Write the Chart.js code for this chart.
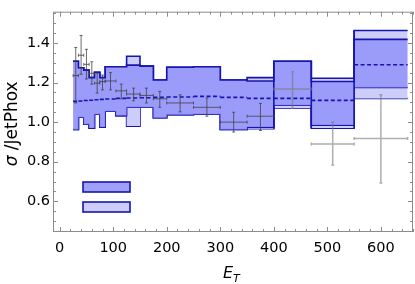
<!DOCTYPE html>
<html>
<head>
<meta charset="utf-8">
<script src="https://cdn.jsdelivr.net/npm/chart.js@4"></script>
<style>
  html, body { margin: 0; padding: 0; background: #fff; }
  canvas { display: block; }
</style>
</head>
<body>
<canvas id="ratioChart" width="415" height="284"></canvas>
<script>
// bins in E_T (GeV)
const binEdges = [25, 35, 45, 55, 65, 75, 85, 105, 125, 150, 175, 200, 250, 300, 350, 400, 470, 550, 650];

// theory band, one value per bin
const innerHi = [1.308, 1.275, 1.263, 1.225, 1.252, 1.225, 1.28, 1.28, 1.288, 1.283, 1.213, 1.277, 1.28, 1.213, 1.208, 1.308, 1.205, 1.418];
const innerLo = [0.963, 1.025, 0.99, 0.97, 1.04, 0.975, 1.055, 1.033, 1.075, 1.075, 1.022, 1.038, 1.04, 0.963, 0.975, 1.085, 0.985, 1.175];
const outerHi = [1.308, 1.275, 1.263, 1.225, 1.252, 1.225, 1.28, 1.28, 1.333, 1.283, 1.213, 1.277, 1.28, 1.213, 1.225, 1.308, 1.222, 1.463];
const outerLo = [0.963, 1.025, 0.99, 0.97, 1.04, 0.975, 1.055, 1.033, 0.98, 1.075, 1.022, 1.038, 1.04, 0.963, 0.967, 1.07, 0.97, 1.12];
const central = [1.105, 1.107, 1.109, 1.111, 1.113, 1.115, 1.117, 1.12, 1.122, 1.123, 1.125, 1.127, 1.13, 1.125, 1.12, 1.12, 1.11, 1.29];

// data points
const etPoints = [30, 40, 50, 60, 70, 80, 95, 115, 138, 162, 187, 225, 275, 325, 375, 435, 510, 600];
const ratio    = [1.235, 1.338, 1.292, 1.247, 1.197, 1.205, 1.208, 1.158, 1.142, 1.135, 1.118, 1.097, 1.075, 1.0, 1.03, 1.167, 0.89, 0.917];
const ratioLo  = [1.097, 1.242, 1.218, 1.192, 1.147, 1.163, 1.163, 1.118, 1.108, 1.097, 1.075, 1.052, 1.03, 0.95, 0.958, 1.07, 0.783, 0.693];
const ratioHi  = [1.377, 1.438, 1.368, 1.305, 1.247, 1.238, 1.25, 1.192, 1.172, 1.172, 1.155, 1.138, 1.122, 1.05, 1.095, 1.255, 1.0, 1.138];

const xTickLabels = [0, 100, 200, 300, 400, 500, 600];
const yTickLabels = [0.6, 0.8, 1.0, 1.2, 1.4];

const edgeBlue = 'rgb(22, 22, 175)';
const darkFill = 'rgba(150, 150, 250, 0.9)';
const lightFill = 'rgba(205, 205, 250, 1)';
const tickFont = { family: 'DejaVu Sans', size: 14.5 };

function stepData(vals) {
    const d = vals.map((v, i) => ({ x: binEdges[i], y: v }));
    d.push({ x: binEdges[binEdges.length - 1], y: vals[vals.length - 1] });
    return d;
}

function segmentData(vals) {
    const d = [];
    vals.forEach((v, i) => {
        d.push({ x: binEdges[i], y: v }, { x: binEdges[i + 1], y: v }, { x: binEdges[i + 1], y: null });
    });
    return d;
}

const bandLine = { showLine: true, stepped: 'before', borderColor: edgeBlue, borderWidth: 1.6, pointRadius: 0 };

// the wide high-E_T bins are drawn as boxes, so their left sides run full height
const boxEdges = {
    id: 'boxEdges',
    afterDatasetsDraw(chart) {
        const { ctx, scales: { x, y } } = chart;
        ctx.save();
        ctx.strokeStyle = edgeBlue;
        ctx.lineWidth = 1.6;
        ctx.beginPath();
        for (let i = 15; i < binEdges.length - 1; i++) {
            const px = x.getPixelForValue(binEdges[i]);
            const top = Math.max(outerHi[i], outerHi[i - 1]);
            const bot = Math.min(outerLo[i], outerLo[i - 1]);
            ctx.moveTo(px, y.getPixelForValue(top));
            ctx.lineTo(px, y.getPixelForValue(bot));
        }
        ctx.stroke();
        ctx.restore();
    }
};

// error crosses for the data
const errorBars = {
    id: 'errorBars',
    afterDatasetsDraw(chart) {
        const { ctx, scales: { x, y } } = chart;
        ctx.save();
        etPoints.forEach((et, i) => {
            const wide = binEdges[i + 1] - binEdges[i] > 60;
            ctx.strokeStyle = wide ? 'rgba(120, 120, 120, 0.6)' : 'rgba(60, 60, 60, 0.75)';
            ctx.lineWidth = wide ? 1.5 : 1;
            const px = x.getPixelForValue(et), py = y.getPixelForValue(ratio[i]);
            const x0 = x.getPixelForValue(binEdges[i]), x1 = x.getPixelForValue(binEdges[i + 1]);
            const y0 = y.getPixelForValue(ratioLo[i]), y1 = y.getPixelForValue(ratioHi[i]);
            ctx.beginPath();
            ctx.moveTo(px, y0); ctx.lineTo(px, y1);
            ctx.moveTo(x0, py); ctx.lineTo(x1, py);
            ctx.moveTo(px - 1.5, y0); ctx.lineTo(px + 1.5, y0);
            ctx.moveTo(px - 1.5, y1); ctx.lineTo(px + 1.5, y1);
            ctx.moveTo(x0, py - 1.5); ctx.lineTo(x0, py + 1.5);
            ctx.moveTo(x1, py - 1.5); ctx.lineTo(x1, py + 1.5);
            ctx.stroke();
        });
        ctx.restore();
    }
};

// frame with inward ticks, legend boxes, axis titles
const frameAndLabels = {
    id: 'frameAndLabels',
    afterDraw(chart) {
        const { ctx, chartArea: a, scales: { x, y } } = chart;
        ctx.save();
        ctx.strokeStyle = '#8c8c8c';
        ctx.lineWidth = 1;
        ctx.strokeRect(a.left + 0.5, a.top + 0.5, a.right - a.left - 1, a.bottom - a.top - 1);
        ctx.beginPath();
        for (let v = 0; v <= 660; v += 20) {
            const px = Math.round(x.getPixelForValue(v)) + 0.5;
            const len = v % 100 === 0 ? 5 : 3;
            ctx.moveTo(px, a.bottom); ctx.lineTo(px, a.bottom - len);
            ctx.moveTo(px, a.top); ctx.lineTo(px, a.top + len);
        }
        for (let k = 9; k <= 31; k++) {
            const v = k * 0.05;
            const py = Math.round(y.getPixelForValue(v)) + 0.5;
            const len = k % 4 === 0 ? 5 : 3;
            ctx.moveTo(a.left, py); ctx.lineTo(a.left + len, py);
            ctx.moveTo(a.right, py); ctx.lineTo(a.right - len, py);
        }
        ctx.stroke();

        // legend swatches (no text)
        ctx.lineWidth = 1.6;
        ctx.strokeStyle = edgeBlue;
        [[darkFill, 50], [lightFill, 30]].forEach(([fill, off]) => {
            ctx.fillStyle = fill;
            ctx.fillRect(a.left + 30, a.bottom - off, 47, 10);
            ctx.strokeRect(a.left + 30, a.bottom - off, 47, 10);
        });

        // x title E_T
        ctx.fillStyle = '#000';
        ctx.textBaseline = 'alphabetic';
        const cx = (a.left + a.right) / 2 - 3;
        ctx.font = 'oblique 16px "DejaVu Sans"';
        ctx.textAlign = 'right';
        ctx.fillText('E', cx + 3, 278);
        ctx.font = 'oblique 11px "DejaVu Sans"';
        ctx.textAlign = 'left';
        ctx.fillText('T', cx + 3, 282);

        // y title
        ctx.translate(17, (a.top + a.bottom) / 2 + 2);
        ctx.rotate(-Math.PI / 2);
        ctx.font = 'oblique 17px "DejaVu Sans"';
        const w1 = ctx.measureText('\u03c3').width;
        ctx.font = '17px "DejaVu Sans"';
        const w2 = ctx.measureText(' /JetPhox').width;
        const start = -(w1 + w2) / 2;
        ctx.font = 'oblique 17px "DejaVu Sans"';
        ctx.fillText('\u03c3', start, 0);
        ctx.font = '17px "DejaVu Sans"';
        ctx.fillText(' /JetPhox', start + w1, 0);
        ctx.restore();
    }
};

new Chart(document.getElementById('ratioChart'), {
    type: 'scatter',
    data: {
        datasets: [
            { label: 'data', data: etPoints.map((et, i) => ({ x: et, y: ratio[i] })), pointRadius: 0 },
            { label: 'central', data: segmentData(central), showLine: true, spanGaps: false, borderColor: edgeBlue, borderWidth: 1.6, borderDash: [4, 2.5], pointRadius: 0 },
            { label: 'inner hi', data: stepData(innerHi), ...bandLine, fill: '+1', backgroundColor: darkFill },
            { label: 'inner lo', data: stepData(innerLo), ...bandLine, fill: false },
            { label: 'outer hi', data: stepData(outerHi), ...bandLine, fill: '+1', backgroundColor: lightFill },
            { label: 'outer lo', data: stepData(outerLo), ...bandLine, fill: false }
        ]
    },
    options: {
        responsive: false,
        animation: false,
        devicePixelRatio: 1,
        layout: { padding: { top: 9, right: 2, left: 0, bottom: 0 } },
        plugins: { legend: { display: false }, tooltip: { enabled: false } },
        scales: {
            x: {
                type: 'linear', min: -12.5, max: 660,
                afterBuildTicks: s => { s.ticks = xTickLabels.map(v => ({ value: v })); },
                afterFit: s => { s.height = 52; },
                grid: { display: false, drawTicks: false },
                border: { display: false },
                ticks: { font: tickFont, color: '#000', padding: 8, maxRotation: 0, autoSkip: false, callback: v => String(v) }
            },
            y: {
                type: 'linear', min: 0.445, max: 1.558,
                afterBuildTicks: s => { s.ticks = yTickLabels.map(v => ({ value: v })); },
                afterFit: s => { s.width = 53; },
                grid: { display: false, drawTicks: false },
                border: { display: false },
                ticks: { font: tickFont, color: '#000', padding: 3, autoSkip: false, callback: v => v.toFixed(1) }
            }
        }
    },
    plugins: [boxEdges, errorBars, frameAndLabels]
});
</script>
</body>
</html>
